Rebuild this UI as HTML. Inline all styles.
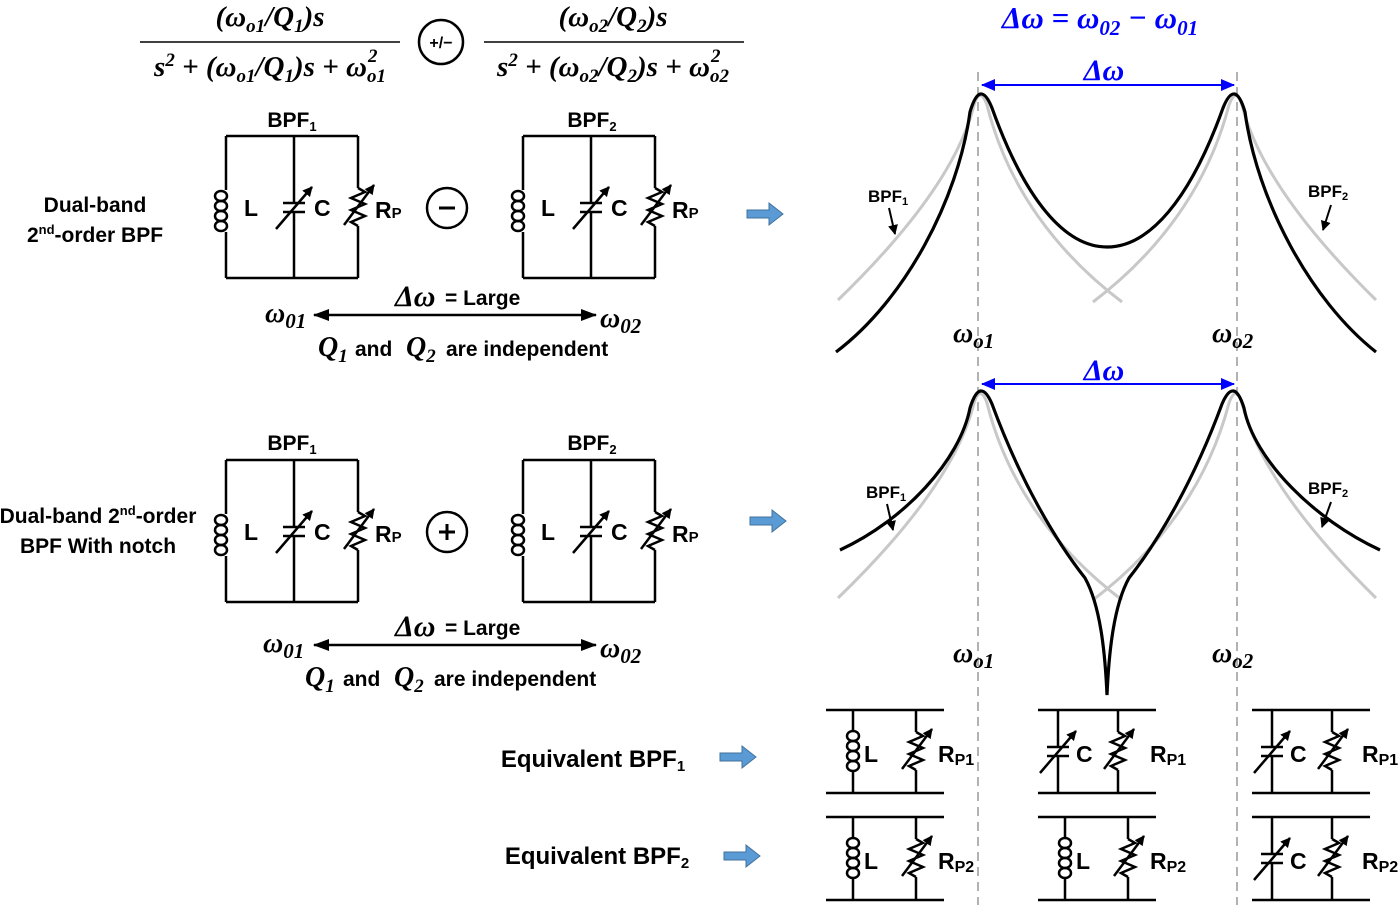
<!DOCTYPE html>
<html><head><meta charset="utf-8"><style>
html,body{margin:0;padding:0;background:#fff}
svg{display:block}
.t{font-family:"Liberation Sans",sans-serif;font-weight:bold;fill:#000}
.m{font-family:"Liberation Serif",serif;font-style:italic;font-weight:bold;fill:#000}
.w{stroke:#000;stroke-width:2.5;fill:none}
</style></head><body>
<svg width="1400" height="906" viewBox="0 0 1400 906" xmlns="http://www.w3.org/2000/svg">
<defs>
<marker id="ah" markerWidth="10" markerHeight="10" refX="9" refY="5" orient="auto" markerUnits="userSpaceOnUse"><path d="M0,0 L10,5 L0,10 z" fill="#000"/></marker>
<marker id="ahb" markerWidth="14" markerHeight="12" refX="13" refY="6" orient="auto-start-reverse" markerUnits="userSpaceOnUse"><path d="M0,0 L14,6 L0,12 z" fill="#00f"/></marker>
<marker id="ahk" markerWidth="16" markerHeight="12" refX="15" refY="6" orient="auto-start-reverse" markerUnits="userSpaceOnUse"><path d="M0,0 L16,6 L0,12 z" fill="#000"/></marker>
<g id="ind">
 <ellipse cx="-5" cy="-15" rx="6" ry="5" class="w"/><ellipse cx="-5" cy="-5" rx="6" ry="5" class="w"/>
 <ellipse cx="-5" cy="5" rx="6" ry="5" class="w"/><ellipse cx="-5" cy="15" rx="6" ry="5" class="w"/>
</g>
<g id="cap">
 <line x1="-11" y1="-4" x2="11" y2="-4" class="w"/><line x1="-11" y1="5" x2="11" y2="5" class="w"/>
 <line x1="-18" y1="22" x2="18" y2="-20" class="w" marker-end="url(#ah)"/>
</g>
<g id="res">
 <path d="M0,-19 L7,-15 L-7,-9 L7,-3 L-7,3 L7,9 L-7,15 L0,19" class="w"/>
 <line x1="-14" y1="18" x2="16" y2="-22" class="w" marker-end="url(#ah)"/>
</g>
<g id="ckt">
 <path d="M0,0 H132 M0,142 H132 M68,0 V67 M68,76 V142 M0,0 V54 M0,96 V142 M132,0 V52 M132,90 V142" class="w"/>
 <use href="#ind" x="0" y="75"/>
 <use href="#cap" x="68" y="71"/>
 <use href="#res" x="132" y="71"/>
 <text class="t" x="18" y="80" font-size="23">L</text>
 <text class="t" x="88" y="80" font-size="23">C</text>
 <text class="t" x="149" y="82" font-size="23">R<tspan font-size="15">P</tspan></text>
</g>
<g id="eqLR">
 <path d="M0,0 H118 M0,83 H118 M27,0 V20 M27,62 V83 M90,0 V22 M90,60 V83" class="w"/>
 <use href="#ind" x="32" y="41"/>
 <use href="#res" x="90" y="41"/>
 <text class="t" x="38" y="52" font-size="23">L</text>
</g>
<g id="eqCR">
 <path d="M0,0 H118 M0,83 H118 M20,0 V37 M20,46 V83 M80,0 V22 M80,60 V83" class="w"/>
 <use href="#cap" x="20" y="41"/>
 <use href="#res" x="80" y="41"/>
 <text class="t" x="38" y="52" font-size="23">C</text>
</g>
</defs>

<!-- formula -->
<text class="m" x="270" y="26" font-size="29" text-anchor="middle">(ω<tspan font-size="19" dy="6">o1</tspan><tspan dy="-6">/</tspan>Q<tspan font-size="19" dy="6">1</tspan><tspan dy="-6">)s</tspan></text>
<line x1="140" y1="42" x2="400" y2="42" stroke="#000" stroke-width="1.5"/>
<text class="m" x="270" y="76" font-size="29" text-anchor="middle">s<tspan font-size="19" dy="-10">2</tspan><tspan dy="10"> + (ω</tspan><tspan font-size="19" dy="6">o1</tspan><tspan dy="-6">/</tspan>Q<tspan font-size="19" dy="6">1</tspan><tspan dy="-6">)s + ω</tspan><tspan font-size="19" dy="6">o1</tspan><tspan font-size="19" dx="-18" dy="-20">2</tspan></text>
<circle cx="441" cy="42" r="22" class="w"/>
<text class="t" x="441" y="48" font-size="16" text-anchor="middle">+/−</text>
<text class="m" x="613" y="26" font-size="29" text-anchor="middle">(ω<tspan font-size="19" dy="6">o2</tspan><tspan dy="-6">/</tspan>Q<tspan font-size="19" dy="6">2</tspan><tspan dy="-6">)s</tspan></text>
<line x1="484" y1="42" x2="744" y2="42" stroke="#000" stroke-width="1.5"/>
<text class="m" x="613" y="76" font-size="29" text-anchor="middle">s<tspan font-size="19" dy="-10">2</tspan><tspan dy="10"> + (ω</tspan><tspan font-size="19" dy="6">o2</tspan><tspan dy="-6">/</tspan>Q<tspan font-size="19" dy="6">2</tspan><tspan dy="-6">)s + ω</tspan><tspan font-size="19" dy="6">o2</tspan><tspan font-size="19" dx="-18" dy="-20">2</tspan></text>
<text class="m" x="1100" y="28" font-size="31" text-anchor="middle" style="fill:#00f">Δω = ω<tspan font-size="21" dy="7">02</tspan><tspan dy="-7"> − ω</tspan><tspan font-size="21" dy="7">01</tspan></text>

<!-- block 1 -->
<text class="t" x="95" y="212" font-size="21" text-anchor="middle">Dual-band</text>
<text class="t" x="95" y="242" font-size="21" text-anchor="middle">2<tspan font-size="13" dy="-8">nd</tspan><tspan dy="8">-order BPF</tspan></text>
<text class="t" x="292" y="127" font-size="21" text-anchor="middle">BPF<tspan font-size="13" dy="4">1</tspan></text>
<text class="t" x="592" y="127" font-size="21" text-anchor="middle">BPF<tspan font-size="13" dy="4">2</tspan></text>
<use href="#ckt" x="226" y="136"/>
<use href="#ckt" x="523" y="136"/>
<circle cx="447" cy="208" r="20" class="w"/><line x1="439" y1="208" x2="455" y2="208" stroke="#000" stroke-width="3"/>
<line x1="314" y1="315" x2="596" y2="315" stroke="#000" stroke-width="2.5" marker-start="url(#ahk)" marker-end="url(#ahk)"/>
<text class="m" x="265" y="322" font-size="28">ω<tspan font-size="21" dy="6">01</tspan></text>
<text class="m" x="600" y="327" font-size="28">ω<tspan font-size="21" dy="6">02</tspan></text>
<text class="m" x="395" y="306" font-size="30">Δω</text>
<text class="t" x="445" y="305" font-size="21">= Large</text>
<text class="m" x="318" y="356" font-size="28">Q<tspan font-size="19" dy="6">1</tspan></text>
<text class="t" x="355" y="356" font-size="21">and</text>
<text class="m" x="406" y="356" font-size="28">Q<tspan font-size="19" dy="6">2</tspan></text>
<text class="t" x="446" y="356" font-size="21">are independent</text>
<path d="M747,210 h22 v-7 l14,11 l-14,11 v-7 h-22 z" fill="#5b9bd5" stroke="#41719c"/>

<!-- block 2 -->
<text class="t" x="98" y="523" font-size="21" text-anchor="middle">Dual-band 2<tspan font-size="13" dy="-8">nd</tspan><tspan dy="8">-order</tspan></text>
<text class="t" x="98" y="553" font-size="21" text-anchor="middle">BPF With notch</text>
<text class="t" x="292" y="450" font-size="21" text-anchor="middle">BPF<tspan font-size="13" dy="4">1</tspan></text>
<text class="t" x="592" y="450" font-size="21" text-anchor="middle">BPF<tspan font-size="13" dy="4">2</tspan></text>
<use href="#ckt" x="226" y="460"/>
<use href="#ckt" x="523" y="460"/>
<circle cx="447" cy="532" r="20" class="w"/><line x1="439" y1="532" x2="455" y2="532" stroke="#000" stroke-width="3"/><line x1="447" y1="524" x2="447" y2="540" stroke="#000" stroke-width="3"/>
<line x1="314" y1="645" x2="596" y2="645" stroke="#000" stroke-width="2.5" marker-start="url(#ahk)" marker-end="url(#ahk)"/>
<text class="m" x="263" y="652" font-size="28">ω<tspan font-size="21" dy="6">01</tspan></text>
<text class="m" x="600" y="657" font-size="28">ω<tspan font-size="21" dy="6">02</tspan></text>
<text class="m" x="395" y="636" font-size="30">Δω</text>
<text class="t" x="445" y="635" font-size="21">= Large</text>
<text class="m" x="305" y="686" font-size="28">Q<tspan font-size="19" dy="6">1</tspan></text>
<text class="t" x="343" y="686" font-size="21">and</text>
<text class="m" x="394" y="686" font-size="28">Q<tspan font-size="19" dy="6">2</tspan></text>
<text class="t" x="434" y="686" font-size="21">are independent</text>
<path d="M750,517 h22 v-7 l14,11 l-14,11 v-7 h-22 z" fill="#5b9bd5" stroke="#41719c"/>

<!-- plots -->
<g stroke="#999" stroke-width="1.5" stroke-dasharray="9,6">
<line x1="978" y1="72" x2="978" y2="905"/><line x1="1237" y1="72" x2="1237" y2="905"/>
</g>
<g stroke="#c8c8c8" stroke-width="3" fill="none">
<path d="M838,300 C900,240 958,170 974,105 Q980,86 987,105 C1008,190 1060,255 1122,302"/>
<path d="M1093,302 C1155,255 1207,190 1229,105 Q1236,86 1242,105 C1258,170 1315,240 1376,300"/>
<path d="M838,598 C900,538 958,468 974,403 Q980,384 987,403 C1008,488 1060,553 1122,600"/>
<path d="M1093,600 C1155,553 1207,488 1229,403 Q1236,384 1242,403 C1258,468 1315,538 1376,598"/>
</g>
<g stroke="#000" stroke-width="3.2" fill="none">
<path d="M836,352 C905,300 958,200 970,112 Q980,78 992,108 C1025,200 1065,247 1107,247 C1149,247 1190,200 1223,108 Q1235,78 1245,112 C1257,200 1310,300 1376,352"/>
<path d="M840,550 C905,520 960,460 970,408 Q980,376 992,404 C1020,480 1055,540 1085,578 C1100,605 1105,650 1107,695 C1109,650 1114,605 1129,578 C1159,540 1194,480 1222,404 Q1234,376 1244,408 C1254,460 1315,520 1380,550"/>
</g>
<line x1="982" y1="85" x2="1234" y2="85" stroke="#00f" stroke-width="2" marker-start="url(#ahb)" marker-end="url(#ahb)"/>
<text class="m" x="1104" y="80" font-size="30" text-anchor="middle" style="fill:#00f">Δω</text>
<line x1="982" y1="384" x2="1234" y2="384" stroke="#00f" stroke-width="2" marker-start="url(#ahb)" marker-end="url(#ahb)"/>
<text class="m" x="1104" y="380" font-size="30" text-anchor="middle" style="fill:#00f">Δω</text>
<text class="m" x="953" y="342" font-size="28">ω<tspan font-size="21" dy="6">o1</tspan></text>
<text class="m" x="1212" y="342" font-size="28">ω<tspan font-size="21" dy="6">o2</tspan></text>
<text class="m" x="953" y="662" font-size="28">ω<tspan font-size="21" dy="6">o1</tspan></text>
<text class="m" x="1212" y="662" font-size="28">ω<tspan font-size="21" dy="6">o2</tspan></text>
<text class="t" x="868" y="202" font-size="17">BPF<tspan font-size="11" dy="3">1</tspan></text>
<line x1="889" y1="208" x2="895" y2="234" stroke="#000" stroke-width="2" marker-end="url(#ah)"/>
<text class="t" x="1308" y="197" font-size="17">BPF<tspan font-size="11" dy="3">2</tspan></text>
<line x1="1331" y1="205" x2="1323" y2="230" stroke="#000" stroke-width="2" marker-end="url(#ah)"/>
<text class="t" x="866" y="498" font-size="17">BPF<tspan font-size="11" dy="3">1</tspan></text>
<line x1="887" y1="504" x2="893" y2="530" stroke="#000" stroke-width="2" marker-end="url(#ah)"/>
<text class="t" x="1308" y="494" font-size="17">BPF<tspan font-size="11" dy="3">2</tspan></text>
<line x1="1331" y1="502" x2="1322" y2="527" stroke="#000" stroke-width="2" marker-end="url(#ah)"/>

<!-- equivalents -->
<text class="t" x="593" y="767" font-size="24" text-anchor="middle">Equivalent BPF<tspan font-size="15" dy="4">1</tspan></text>
<path d="M720,753 h22 v-7 l14,11 l-14,11 v-7 h-22 z" fill="#5b9bd5" stroke="#41719c"/>
<text class="t" x="597" y="864" font-size="24" text-anchor="middle">Equivalent BPF<tspan font-size="15" dy="4">2</tspan></text>
<path d="M724,852 h22 v-7 l14,11 l-14,11 v-7 h-22 z" fill="#5b9bd5" stroke="#41719c"/>

<use href="#eqLR" x="826" y="710"/>
<use href="#eqCR" x="1038" y="710"/>
<use href="#eqCR" x="1252" y="710"/>
<use href="#eqLR" x="826" y="817"/>
<use href="#eqLR" x="1038" y="817"/>
<use href="#eqCR" x="1252" y="817"/>
<g class="t" font-size="23">
<text x="938" y="762">R<tspan font-size="16" dy="3">P1</tspan></text>
<text x="1150" y="762">R<tspan font-size="16" dy="3">P1</tspan></text>
<text x="1362" y="762">R<tspan font-size="16" dy="3">P1</tspan></text>
<text x="938" y="869">R<tspan font-size="16" dy="3">P2</tspan></text>
<text x="1150" y="869">R<tspan font-size="16" dy="3">P2</tspan></text>
<text x="1362" y="869">R<tspan font-size="16" dy="3">P2</tspan></text>
</g>
</svg>
</body></html>
